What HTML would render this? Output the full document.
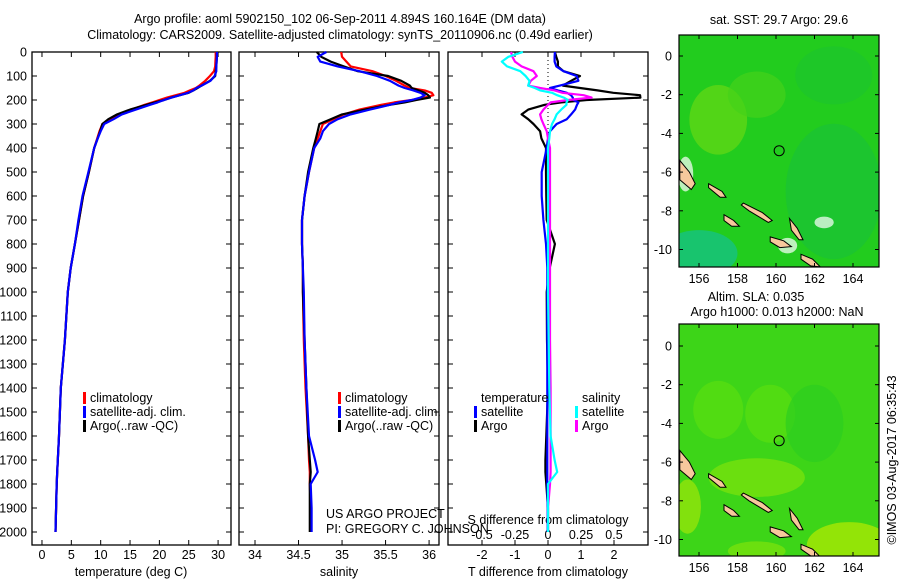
<!DOCTYPE html>
<html><head><meta charset="utf-8"><style>
body{margin:0;background:#fff;}
svg text{font-family:"Liberation Sans",sans-serif;font-size:12.5px;fill:#000;}
</style></head><body>
<svg id="c" width="900" height="580" viewBox="0 0 900 580" xmlns="http://www.w3.org/2000/svg">
<text x="340" y="23" text-anchor="middle">Argo profile: aoml 5902150_102 06-Sep-2011 4.894S 160.164E (DM data)</text>
<text x="340" y="39" text-anchor="middle">Climatology: CARS2009. Satellite-adjusted climatology: synTS_20110906.nc (0.49d earlier)</text>
<g id="g"></g>
</svg>
<script>
// ---- data ----
const depths = [0,20,40,60,80,100,120,140,150,160,170,180,190,200,210,220,240,260,280,300,330,360,400,500,600,700,800,900,1000,1200,1400,1600,1700,1750,1800,1900,2000];
const tempArgo = [29.8,29.8,29.75,29.7,29.6,29.5,28.6,27.2,26.5,25.8,25.0,23.5,22.0,20.8,19.2,17.8,15.0,12.8,11.3,10.3,9.9,9.5,8.9,8.0,7.0,6.3,5.6,4.9,4.4,3.9,3.2,2.9,2.7,2.6,2.5,2.4,2.3];
const tempClim = [29.6,29.6,29.55,29.5,29.3,28.6,27.8,26.8,26.2,25.2,24.3,22.8,21.3,20.0,18.8,17.5,15.2,13.0,11.6,10.3,9.8,9.4,8.9,8.0,7.0,6.3,5.6,4.9,4.4,3.9,3.2,2.9,2.7,2.6,2.5,2.4,2.3];
const tempSat = [29.8,29.8,29.75,29.7,29.7,29.4,28.7,27.2,26.3,25.8,24.9,23.5,22.1,20.8,19.7,18.4,16.0,13.6,12.2,10.6,10.0,9.5,8.9,7.9,6.9,6.2,5.6,4.9,4.4,3.9,3.2,2.9,2.7,2.6,2.5,2.4,2.3];
const salArgo = [34.71,34.76,34.87,35.02,35.18,35.53,35.68,35.78,35.8,35.88,35.95,35.99,36.01,35.85,35.72,35.55,35.26,35.0,34.87,34.74,34.72,34.7,34.67,34.61,34.57,34.54,34.54,34.55,34.55,34.57,34.59,34.61,34.63,34.64,34.63,34.63,34.63];
const salClim = [34.99,35.0,35.05,35.1,35.35,35.5,35.62,35.72,35.78,35.95,36.03,36.05,35.95,35.8,35.6,35.45,35.2,35.02,34.9,34.78,34.75,34.72,34.68,34.62,34.57,34.54,34.54,34.55,34.55,34.56,34.58,34.61,34.62,34.63,34.63,34.64,34.64];
const salSat = [34.82,34.72,34.75,34.95,35.2,35.4,35.55,35.65,35.72,35.82,35.9,35.95,35.9,35.8,35.65,35.55,35.32,35.1,34.95,34.85,34.78,34.75,34.68,34.62,34.57,34.54,34.54,34.55,34.56,34.57,34.59,34.62,34.69,34.72,34.64,34.65,34.65];
const dTsat = [0.21,0.2,0.2,0.25,0.47,0.87,0.92,0.36,0.06,0.3,0.57,0.7,0.75,0.77,0.92,0.88,0.82,0.7,0.57,0.26,0.06,0.0,-0.04,-0.19,-0.19,-0.14,-0.06,-0.02,-0.02,-0.02,-0.02,-0.02,-0.02,-0.02,-0.02,-0.01,-0.01];
const dTargo = [0.21,0.25,0.3,0.3,0.47,0.97,0.7,0.45,0.97,1.5,1.98,2.79,2.8,1.17,0.4,-0.1,-0.6,-0.8,-0.6,-0.44,-0.24,-0.2,-0.06,-0.06,-0.05,-0.04,0.21,0.05,-0.04,-0.03,0.0,-0.05,-0.08,-0.08,-0.05,0.0,0.0];
const dSsat = [-0.19,-0.3,-0.35,-0.31,-0.21,-0.17,-0.14,-0.15,-0.1,-0.06,0.03,0.07,0.12,0.15,0.14,0.14,0.1,0.065,0.05,0.03,0.015,0.01,0.0,0.0,0.0,0.0,0.0,0.0,0.0,0.005,0.01,0.02,0.05,0.07,0.0,0.0,0.0];
const dSargo = [-0.28,-0.27,-0.25,-0.2,-0.11,-0.085,-0.13,-0.15,-0.06,0.05,0.11,0.27,0.33,0.15,0.02,0.0,-0.035,-0.06,-0.05,-0.035,-0.01,0.0,0.015,0.015,0.015,0.015,0.015,0.015,0.015,0.015,0.02,0.02,0.02,0.02,0.015,0.0,0.0];
const tempTicks = [0,5,10,15,20,25,30];
const salTicks = [34,34.5,35,35.5,36];
const dTTicks = [-2,-1,0,1,2];
const dSTicks = [-0.5,-0.25,0,0.25,0.5];
const depthTicks = [0,100,200,300,400,500,600,700,800,900,1000,1100,1200,1300,1400,1500,1600,1700,1800,1900,2000];
const lonTicks = [156,158,160,162,164];
const latTicks = [0,-2,-4,-6,-8,-10];
const argoLon = 160.164, argoLat = -4.894;

const NS='http://www.w3.org/2000/svg';
const G=document.getElementById('g');
function mk(tag,attrs,parent){const e=document.createElementNS(NS,tag);for(const k in attrs)e.setAttribute(k,attrs[k]);(parent||G).appendChild(e);return e;}
const top0=52, bot=545;
function yD(d){return top0+d*0.24;}
const panels=[{x0:32,x1:231,v0:-1.7,v1:32.2},{x0:239,x1:439,v0:33.816,v1:36.114},{x0:448,x1:648,v0:-3.03,v1:3.03}];
function sx(p,v){return p.x0+(v-p.v0)/(p.v1-p.v0)*(p.x1-p.x0);}
function line(p,vals,color,name,scale){
  let d='';vals.forEach((v,i)=>{d+=(i?'L':'M')+sx(p,v*(scale||1)).toFixed(1)+' '+yD(depths[i]).toFixed(1);});
  const e=mk('path',{d:d,fill:'none',stroke:color,'stroke-width':2.2,'stroke-linejoin':'round'});
  
  
}
function txt(x,y,s,anchor,name,extra){const e=mk('text',Object.assign({x:x,y:y,'text-anchor':anchor||'start'},extra||{}));e.textContent=s;
  
  
  return e;}
panels.forEach((p,pi)=>{
  const r=mk('rect',{x:p.x0,y:top0,width:p.x1-p.x0,height:bot-top0,fill:'#fff',stroke:'#000','stroke-width':1.3});
  
  
  depthTicks.forEach(d=>{mk('line',{x1:p.x0,x2:p.x0+5,y1:yD(d),y2:yD(d),stroke:'#000'});mk('line',{x1:p.x1,x2:p.x1-5,y1:yD(d),y2:yD(d),stroke:'#000'});});
});
depthTicks.forEach(d=>txt(27,yD(d)+4.5,String(d),'end','depth-tick-label'));
function xticks(p,ticks,y,name,scale){ticks.forEach(t=>{const x=sx(p,t*(scale||1));
  mk('line',{x1:x,x2:x,y1:bot,y2:bot-5,stroke:'#000'});mk('line',{x1:x,x2:x,y1:top0,y2:top0+5,stroke:'#000'});
  txt(x,y,String(t),'middle',name);});}
xticks(panels[0],tempTicks,559,'temperature-tick-label');
xticks(panels[1],salTicks,559,'salinity-tick-label');
xticks(panels[2],dTTicks,559,'t-diff-tick-label');
dSTicks.forEach(t=>txt(sx(panels[2],t*4),539,String(t),'middle','s-diff-tick-label'));
txt(131,576,'temperature (deg C)','middle','temperature-axis-title');
txt(339,576,'salinity','middle','salinity-axis-title');
txt(548,576,'T difference from climatology','middle','t-diff-axis-title');
txt(548,524,'S difference from climatology','middle','s-diff-axis-title');
mk('line',{x1:sx(panels[2],0),x2:sx(panels[2],0),y1:top0,y2:yD(400),stroke:'#000','stroke-dasharray':'1,3'});
line(panels[0],tempClim,'#f00','temp-climatology-line');
line(panels[0],tempArgo,'#000','temp-argo-line');
line(panels[0],tempSat,'#00f','temp-satellite-line');
line(panels[1],salClim,'#f00','sal-climatology-line');
line(panels[1],salArgo,'#000','sal-argo-line');
line(panels[1],salSat,'#00f','sal-satellite-line');
line(panels[2],dTargo,'#000','tdiff-argo-line');
line(panels[2],dTsat,'#00f','tdiff-satellite-line');
line(panels[2],dSargo,'#f0f','sdiff-argo-line',4);
line(panels[2],dSsat,'#0ff','sdiff-satellite-line',4);
function leg(x,y,color,s,name){const r=mk('rect',{x:x-7,y:y-10,width:3,height:12,fill:color});
  
  
  txt(x,y,s,'start',name);}
[[90,'climatology'],[345,'climatology']].forEach(a=>{leg(a[0],402,'#f00','climatology','legend-climatology');leg(a[0],416,'#00f','satellite-adj. clim.','legend-satellite-adj');leg(a[0],430,'#000','Argo(..raw -QC)','legend-argo');});
txt(481,402,'temperature','start','legend-temperature-header');
leg(481,416,'#00f','satellite','legend-t-satellite');leg(481,430,'#000','Argo','legend-t-argo');
txt(582,402,'salinity','start','legend-salinity-header');
leg(582,416,'#0ff','satellite','legend-s-satellite');leg(582,430,'#f0f','Argo','legend-s-argo');
txt(326,518,'US ARGO PROJECT','start','project-credit');
txt(326,533,'PI: GREGORY C. JOHNSON','start','pi-credit');

// ---- maps ----
const islands=[
 [[155,-5.4],[155.5,-6.0],[155.8,-6.6],[155.6,-6.9],[155,-6.4]],
 [[156.5,-6.6],[157.2,-7.0],[157.4,-7.3],[157.1,-7.3],[156.5,-6.8]],
 [[158.3,-7.6],[159.3,-8.1],[159.8,-8.5],[159.6,-8.6],[158.6,-8.0],[158.2,-7.7]],
 [[157.3,-8.2],[157.8,-8.5],[158.1,-8.8],[157.7,-8.8],[157.3,-8.5]],
 [[159.7,-9.35],[160.4,-9.55],[160.8,-9.85],[160.2,-9.9],[159.7,-9.6]],
 [[160.7,-8.4],[161.1,-8.9],[161.4,-9.5],[161.2,-9.5],[160.8,-9.0]],
 [[161.3,-10.25],[161.9,-10.5],[162.3,-10.9],[161.8,-10.85],[161.3,-10.5]]];
function map(y0,z,blobs,name){
  const X0=679,X1=879,Y1=y0+232;
  const lx=l=>679.75+(l-155)*19.25, ly=l=>z-l*19.35;
  const grp=mk('g',{});
  
  
  const cp=mk('clipPath',{id:'cp'+y0},grp);
  mk('rect',{x:X0,y:y0,width:X1-X0,height:Y1-y0},cp);
  const inner=mk('g',{'clip-path':'url(#cp'+y0+')'},grp);
  mk('rect',{x:X0,y:y0,width:X1-X0,height:Y1-y0,fill:blobs.base},inner);
  blobs.list.forEach(b=>mk('ellipse',{cx:lx(b[0]),cy:ly(b[1]),rx:b[2]*19.25,ry:b[3]*19.35,fill:b[4],opacity:0.7},inner));
  islands.forEach(pts=>{mk('polygon',{points:pts.map(p=>lx(p[0]).toFixed(1)+','+ly(p[1]).toFixed(1)).join(' '),fill:'#f7c89c',stroke:'#000','stroke-width':1},inner);});
  mk('circle',{cx:lx(argoLon),cy:ly(argoLat),r:5,fill:'none',stroke:'#000','stroke-width':1},grp);
  mk('rect',{x:X0,y:y0,width:X1-X0,height:Y1-y0,fill:'none',stroke:'#000','stroke-width':1.2},grp);
  lonTicks.forEach(l=>{mk('line',{x1:lx(l),x2:lx(l),y1:Y1,y2:Y1-4,stroke:'#000'},grp);mk('line',{x1:lx(l),x2:lx(l),y1:y0,y2:y0+4,stroke:'#000'},grp);txt(lx(l),Y1+16,String(l),'middle','map-lon-label');});
  latTicks.forEach(l=>{mk('line',{x1:X0,x2:X0+4,y1:ly(l),y2:ly(l),stroke:'#000'},grp);mk('line',{x1:X1,x2:X1-4,y1:ly(l),y2:ly(l),stroke:'#000'},grp);txt(672,ly(l)+4.5,String(l),'end','map-lat-label');});
}
map(35,56,{base:'#22cc1e',list:[[157,-3.3,1.5,1.8,'#66d914'],[159,-2,1.5,1.2,'#44d21a'],[156,-10.2,2,1.2,'#14c090'],[163,-7,2.5,3.5,'#19c236'],[163,-1,2,1.5,'#1cc52c'],[162.5,-8.6,0.5,0.3,'#fff'],[155.3,-6.1,0.4,0.9,'#fff'],[160.6,-9.8,0.5,0.4,'#fff']]},'sst-map');
map(324,346,{base:'#3dd518',list:[[157,-3.3,1.3,1.5,'#5ade10'],[159.7,-3.5,1.3,1.5,'#5ade10'],[163.8,-10.3,2.2,1.2,'#b8ea00'],[159,-6.8,2.5,1.0,'#7fe20c'],[155.4,-8.3,0.7,1.4,'#a0e608'],[162,-4,1.5,2,'#2ccd20'],[159,-10.6,1.5,0.5,'#7fe20c']]},'sla-map');
txt(779,24,'sat. SST: 29.7 Argo: 29.6','middle','sst-map-title');
txt(756,301,'Altim. SLA: 0.035','middle','sla-map-title');
txt(777,316,'Argo h1000: 0.013 h2000: NaN','middle','sla-map-subtitle');
txt(0,0,'\u00A9IMOS 03-Aug-2017 06:35:43','middle','imos-timestamp',{transform:'translate(896,460) rotate(-90)'});
</script>
</body></html>
